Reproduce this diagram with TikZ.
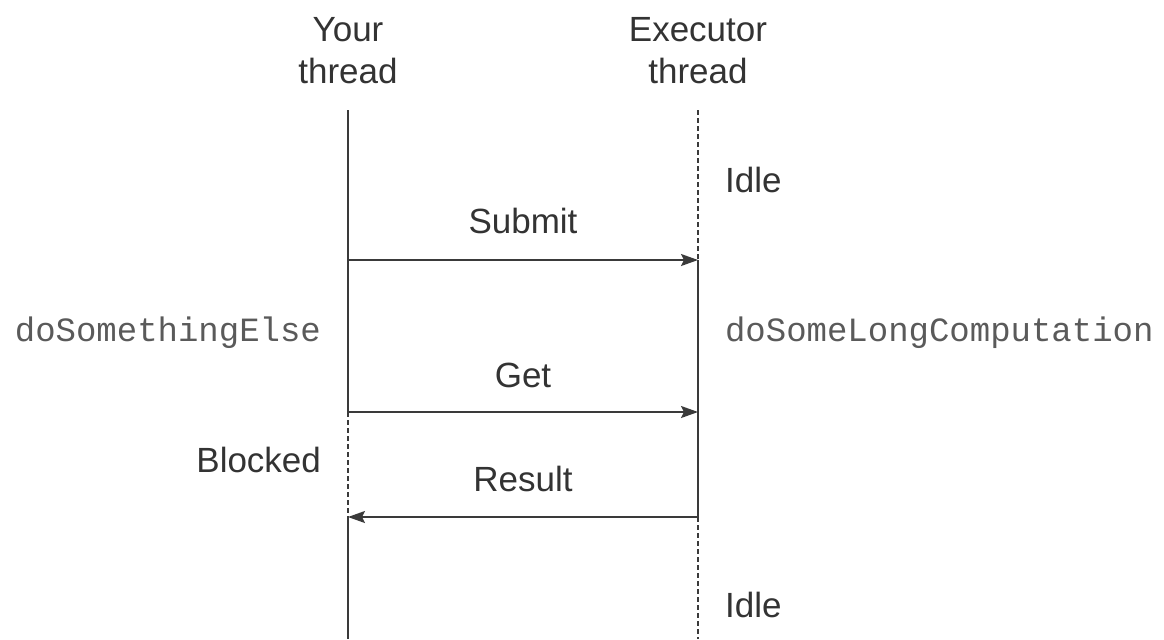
\documentclass[tikz,border=0pt]{standalone}
\usepackage{fontspec}
\setmainfont{Liberation Sans}
\setmonofont{Liberation Mono}
\usepackage{xcolor}
\usetikzlibrary{arrows.meta,positioning}

\definecolor{linegray}{HTML}{3A3A3A}
\definecolor{textgray}{HTML}{333333}
\definecolor{codegray}{HTML}{5A5A5A}

\begin{document}
\begin{tikzpicture}[
  x=0.5pt, y=-0.5pt,
  >={Stealth[length=8.5pt,width=6pt,inset=1.5pt]},
  every node/.style={font=\fontsize{17.5}{21}\selectfont, text=textgray},
  head/.style={align=center},
  code/.style={font=\ttfamily\fontsize{17}{21}\selectfont, text=codegray},
  life/.style={draw=linegray, line width=1pt},
  idle/.style={life, dash pattern=on 2.5pt off 1.5pt},
  msg/.style={->, draw=linegray, line width=1pt},
]
  \useasboundingbox (0,0) rectangle (1164,639);

  % thread headings
  \node[head] (yours) at (348,51) {Your\\thread};
  \node[head] (exec)  at (698,51) {Executor\\thread};

  % points on the life lines
  \coordinate (L0) at (348,110);
  \coordinate (L1) at (348,260);
  \coordinate (L2) at (348,412);
  \coordinate (L3) at (348,517);
  \coordinate (L4) at (348,639);
  \coordinate (R0) at (698,110);
  \coordinate (R1) at (698,260);
  \coordinate (R2) at (698,412);
  \coordinate (R3) at (698,517);
  \coordinate (R4) at (698,639);

  % your thread
  \draw[life] (L0) -- (L2);
  \draw[idle] (L2) -- (L3);
  \draw[life] (L3) -- (L4);

  % executor thread
  \draw[idle] (R0) -- (R1);
  \draw[life] (R1) -- (R3);
  \draw[idle] (R3) -- (R4);

  % messages
  \draw[msg] (L1) -- node[above=9.5pt] (submit) {Submit} (R1);
  \draw[msg] (L2) -- node[above=8.5pt] (get) {Get} (R2);
  \draw[msg] (R3) -- node[above=9pt] (result) {Result} (L3);

  % states
  \node[anchor=west] (idleA) at (718,180) {Idle};
  \node[anchor=west] (idleB) at (718,605) {Idle};
  \node[anchor=east] (blocked) at (328,460) {Blocked};
  \node[code, anchor=east] (else) at (328,333) {doSomethingElse};
  \node[code, anchor=west] (long) at (718,333) {doSomeLongComputation};
\end{tikzpicture}
\end{document}
